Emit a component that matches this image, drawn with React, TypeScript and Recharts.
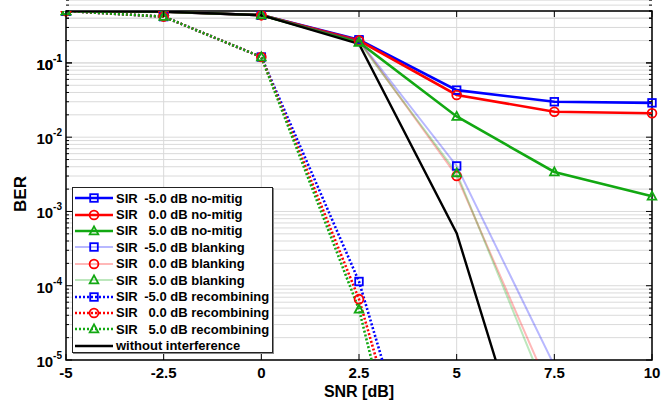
import React from 'react';
import { LineChart, Line, XAxis, YAxis, CartesianGrid, ReferenceArea, Label } from 'recharts';

// SNR points [dB]
const snr = [-5, -2.5, 0, 2.5, 5, 7.5, 10];
const snrTicks = [-5, -2.5, 0, 2.5, 5, 7.5, 10];

// BER values (null = no point)
const noMitigM5 = [0.5, 0.49, 0.44, 0.205, 0.043, 0.030, 0.029];
const noMitig0 = [0.5, 0.49, 0.44, 0.2, 0.037, 0.022, 0.021];
const noMitig5 = [0.5, 0.49, 0.44, 0.19, 0.019, 0.0034, 0.0016];
const blankingM5 = [0.5, 0.49, 0.44, 0.2, 0.0041, 8.4e-6, null];
const blanking0 = [0.5, 0.49, 0.44, 0.2, 0.003, 2.9e-6, null];
const blanking5 = [0.5, 0.49, 0.44, 0.19, 0.0033, 2.0e-6, null];
const recombM5 = [0.5, 0.42, 0.12, 1.14e-4, 4.1e-9, null, null];
const recomb0 = [0.5, 0.42, 0.12, 6.6e-5, 1.8e-9, null, null];
const recomb5 = [0.5, 0.42, 0.12, 4.8e-5, 2.5e-10, null, null];
const noInterference = [0.5, 0.49, 0.44, 0.18, 5.1e-4, 2.7e-8, null];

const decades = [-5, -4, -3, -2, -1];
const berTicks: number[] = [];
decades.forEach((d) => {
  for (let m = 1; m <= 9; m++) berTicks.push(m * Math.pow(10, d));
});
berTicks.push(0.1, 0.2, 0.3, 0.4, 0.5);

const series = [
  { key: 'nmM5', values: noMitigM5, name: '-5.0', kind: 'no-mitig', color: '#0000ff', shape: 'square' },
  { key: 'nm0', values: noMitig0, name: '0.0', kind: 'no-mitig', color: '#ff0000', shape: 'circle' },
  { key: 'nm5', values: noMitig5, name: '5.0', kind: 'no-mitig', color: '#12a812', shape: 'triangle' },
  { key: 'blM5', values: blankingM5, name: '-5.0', kind: 'blanking', color: '#0000ff', shape: 'square' },
  { key: 'bl0', values: blanking0, name: '0.0', kind: 'blanking', color: '#ff0000', shape: 'circle' },
  { key: 'bl5', values: blanking5, name: '5.0', kind: 'blanking', color: '#12a812', shape: 'triangle' },
  { key: 'rcM5', values: recombM5, name: '-5.0', kind: 'recombining', color: '#0000ff', shape: 'square' },
  { key: 'rc0', values: recomb0, name: '0.0', kind: 'recombining', color: '#ff0000', shape: 'circle' },
  { key: 'rc5', values: recomb5, name: '5.0', kind: 'recombining', color: '#12a812', shape: 'triangle' },
];

const data = snr.map((x, i) => {
  const row: any = { snr: x, none: noInterference[i] };
  series.forEach((s) => (row[s.key] = s.values[i]));
  return row;
});

const FONT = '"Liberation Sans", Arial, sans-serif';
const L = 66, R = 652, T = 11, B = 360;

const lineStyle = (kind: string) => {
  if (kind === 'blanking') return { strokeWidth: 2, strokeOpacity: 0.28, dash: undefined };
  if (kind === 'recombining') return { strokeWidth: 2.6, strokeOpacity: 1, dash: '2 2' };
  return { strokeWidth: 2.6, strokeOpacity: 1, dash: undefined };
};

const Marker = ({ cx, cy, shape, color }: any) => {
  if (cx == null || cy == null || isNaN(cy)) return null;
  const sw = 1.8;
  if (shape === 'square')
    return <rect x={cx - 3.8} y={cy - 3.8} width={7.6} height={7.6} fill="none" stroke={color} strokeWidth={sw} />;
  if (shape === 'circle') return <circle cx={cx} cy={cy} r={4.4} fill="none" stroke={color} strokeWidth={sw} />;
  return (
    <polygon
      points={`${cx},${cy - 4.6} ${cx - 4.3},${cy + 3.3} ${cx + 4.3},${cy + 3.3}`}
      fill="none"
      stroke={color}
      strokeWidth={sw}
    />
  );
};

const YTick = ({ y, payload }: any) => {
  const lg = Math.log10(payload.value);
  const e = Math.round(lg);
  const major = Math.abs(lg - e) < 1e-6;
  const len = major ? 6 : 3;
  return (
    <g>
      <line x1={L} x2={L + len} y1={y} y2={y} stroke="#000" strokeWidth={1} />
      <line x1={R - len} x2={R} y1={y} y2={y} stroke="#000" strokeWidth={1} />
      {major && (
        <text x={62} y={y + 7} textAnchor="end" fontFamily={FONT} fontWeight="bold" fontSize={15} fill="#000">
          <tspan>10</tspan>
          <tspan dy={-8} fontSize={10}>{e}</tspan>
        </text>
      )}
    </g>
  );
};

const XTick = ({ x, payload }: any) => (
  <g>
    <line x1={x} x2={x} y1={B} y2={B - 6} stroke="#000" strokeWidth={1} />
    <line x1={x} x2={x} y1={T} y2={T + 6} stroke="#000" strokeWidth={1} />
    <text x={x} y={378} textAnchor="middle" fontFamily={FONT} fontWeight="bold" fontSize={15} fill="#000">
      {payload.value}
    </text>
  </g>
);

const LegendIcon = ({ s }: any) => {
  const st = lineStyle(s.kind);
  return (
    <svg width={40} height={14} style={{ display: 'block' }}>
      <line x1={1} x2={39} y1={7} y2={7} stroke={s.color} strokeWidth={st.strokeWidth} strokeOpacity={st.strokeOpacity} strokeDasharray={st.dash} />
      <Marker cx={20} cy={7} shape={s.shape} color={s.color} />
    </svg>
  );
};

const LegendBox = () => (
  <div
    style={{
      position: 'absolute',
      left: 72,
      top: 187,
      width: 201,
      height: 166,
      background: '#fff',
      border: '1px solid #222',
      boxShadow: '1px 1px 0 #888',
      fontFamily: FONT,
      fontWeight: 'bold',
      fontSize: 13,
      color: '#000',
      boxSizing: 'border-box',
      paddingTop: 2,
    }}
  >
    {series.map((s) => (
      <div key={s.key} style={{ display: 'flex', alignItems: 'center', height: 16.4, whiteSpace: 'pre' }}>
        <div style={{ marginLeft: 1, width: 42 }}>
          <LegendIcon s={s} />
        </div>
        <span>SIR</span>
        <span style={{ display: 'inline-block', width: 29, textAlign: 'right' }}>{s.name}</span>
        <span>{' dB ' + s.kind}</span>
      </div>
    ))}
    <div style={{ display: 'flex', alignItems: 'center', height: 16.4 }}>
      <div style={{ marginLeft: 1, width: 42 }}>
        <svg width={40} height={14} style={{ display: 'block' }}>
          <line x1={1} x2={39} y1={7} y2={7} stroke="#000" strokeWidth={2.4} />
        </svg>
      </div>
      <span>without interference</span>
    </div>
  </div>
);

export default function App() {
  return (
    <div style={{ position: 'absolute', left: 0, top: 0, width: 668, height: 402, background: '#fff' }}>
      <LineChart width={668} height={402} data={data} margin={{ top: T, right: 668 - R, left: 0, bottom: 0 }}>
        <CartesianGrid stroke="#dadada" strokeWidth={1} />
        <XAxis
          dataKey="snr"
          type="number"
          domain={[-5, 10]}
          ticks={snrTicks}
          height={42}
          tick={<XTick />}
          tickLine={false}
          axisLine={false}
          interval={0}
        >
          <Label
            content={() => (
              <text x={359} y={397} textAnchor="middle" fontFamily={FONT} fontWeight="bold" fontSize={16} fill="#000">
                SNR [dB]
              </text>
            )}
          />
        </XAxis>
        <YAxis
          scale="log"
          type="number"
          domain={[1e-5, 0.5]}
          allowDataOverflow
          ticks={berTicks}
          width={66}
          tick={<YTick />}
          tickLine={false}
          axisLine={false}
          interval={0}
        >
          <Label
            content={() => (
              <text x={26} y={194} transform="rotate(-90 26 194)" textAnchor="middle" fontFamily={FONT} fontWeight="bold" fontSize={17} fill="#000">
                BER
              </text>
            )}
          />
        </YAxis>
        <ReferenceArea x1={-5} x2={10} y1={1e-5} y2={0.5} fill="none" stroke="#000" strokeWidth={1.5} ifOverflow="visible" />
        {series.map((s) => {
          const st = lineStyle(s.kind);
          return (
            <Line
              key={s.key}
              dataKey={s.key}
              type="linear"
              stroke={s.color}
              strokeWidth={st.strokeWidth}
              strokeOpacity={st.strokeOpacity}
              strokeDasharray={st.dash}
              isAnimationActive={false}
              connectNulls={false}
              dot={(p: any) => <Marker key={p.index} cx={p.cx} cy={p.cy} shape={s.shape} color={s.color} />}
              activeDot={false}
            />
          );
        })}
        <Line dataKey="none" type="linear" stroke="#000" strokeWidth={2.4} dot={false} activeDot={false} isAnimationActive={false} />
      </LineChart>
      <LegendBox />
    </div>
  );
}
